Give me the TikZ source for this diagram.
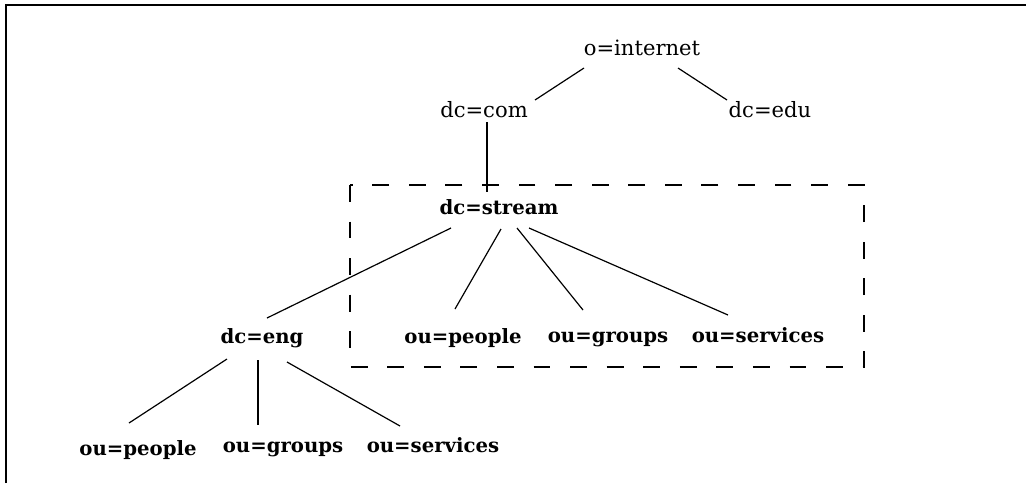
\documentclass[tikz,border=0pt]{standalone}
\usepackage{fontspec}
\setmainfont{DejaVu Serif}

\begin{document}
\begin{tikzpicture}[x=0.025cm, y=-0.025cm,
  entry/.style={anchor=base, inner sep=0pt, font=\fontsize{15}{18}\selectfont},
  local/.style={anchor=base, inner sep=0pt, font=\bfseries\fontsize{14}{17}\selectfont},
  link/.style={line width=0.85pt}]
\useasboundingbox (0,0) rectangle (1026,483);
\draw[line width=1.4pt] (6,483) -- (6,5) -- (1026,5);

\node[entry] (inet) at (642,55) {o=internet};
\node[entry] (com) at (484,117) {dc=com};
\node[entry] (edu) at (770,117) {dc=edu};
\node[local] (stream) at (499,214) {dc=stream};
\node[local] (eng) at (262,343) {dc=eng};
\node[local] (sp) at (463,343) {ou=people};
\node[local] (sg) at (608,342) {ou=groups};
\node[local] (ss) at (758,342) {ou=services};
\node[local] (ep) at (138,455) {ou=people};
\node[local] (eg) at (283,452) {ou=groups};
\node[local] (es) at (433,452) {ou=services};

% naming context of the server
\draw[dash pattern=on 12pt off 14pt, line width=0.85pt] (350,185) rectangle (864,367);

\draw[link] ([shift={(-58,13)}]inet.base) -- ([shift={(51,-17)}]com.base);
\draw[link] ([shift={(36,13)}]inet.base) -- ([shift={(-43,-17)}]edu.base);
\draw[link] ([shift={(3,5)}]com.base) -- ([shift={(-12,-22)}]stream.base);
\draw[link] ([shift={(-48,14)}]stream.base) -- ([shift={(5,-25)}]eng.base);
\draw[link] ([shift={(2,15)}]stream.base) -- ([shift={(-8,-34)}]sp.base);
\draw[link] ([shift={(18,14)}]stream.base) -- ([shift={(-25,-32)}]sg.base);
\draw[link] ([shift={(30,14)}]stream.base) -- ([shift={(-30,-27)}]ss.base);
\draw[link] ([shift={(-35,16)}]eng.base) -- ([shift={(-9,-32)}]ep.base);
\draw[link] ([shift={(-4,17)}]eng.base) -- ([shift={(-25,-27)}]eg.base);
\draw[link] ([shift={(25,19)}]eng.base) -- ([shift={(-33,-26)}]es.base);
\end{tikzpicture}
\end{document}
